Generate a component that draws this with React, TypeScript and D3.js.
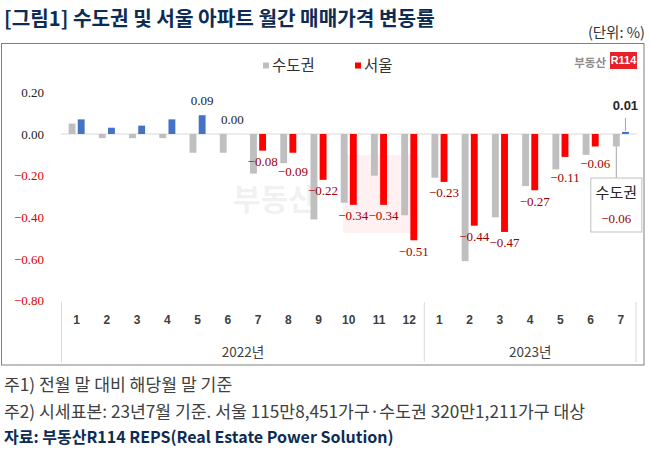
import React, { useEffect, useRef } from "react";
import * as d3 from "d3";

// 월별 (2022.1 ~ 2023.7)
const months = ["1", "2", "3", "4", "5", "6", "7", "8", "9", "10", "11", "12", "1", "2", "3", "4", "5", "6", "7"];
const yearLabels = ["2022년", "2023년"];
const monthsPerYear = [12, 7];

// 수도권 (gray) / 서울 (blue, red)
const capitalArea = [0.05, -0.02, -0.02, -0.02, -0.09, -0.09, -0.19, -0.14, -0.41, -0.33, -0.2, -0.39, -0.21, -0.61, -0.4, -0.25, -0.17, -0.1, -0.06];
const seoul = [0.07, 0.03, 0.04, 0.07, 0.09, 0.0, -0.08, -0.09, -0.22, -0.34, -0.34, -0.51, -0.23, -0.44, -0.47, -0.27, -0.11, -0.06, 0.01];
const firstLabelled = 4; // labels start from 2022.5
const yTicks = [0.2, 0, -0.2, -0.4, -0.6, -0.8];
const seriesNames = ["수도권", "서울"];

const title = "[그림1] 수도권 및 서울 아파트 월간 매매가격 변동률";
const unit = "(단위: %)";
const notes = [
  "주1) 전월 말 대비 해당월 말 기준",
  "주2) 시세표본: 23년7월 기준. 서울 115만8,451가구·수도권 320만1,211가구 대상",
];
const source = "자료: 부동산R114 REPS(Real Estate Power Solution)";

const KR = "'Noto Sans CJK KR', 'Noto Sans', sans-serif";
const SERIF = "'Liberation Serif', 'DejaVu Serif', serif";
const SANS = "'Liberation Sans', Arial, sans-serif";

const fmt = (v) => d3.format(".2f")(v).replace("-", "−");

const App = () => {
  const width = 650;
  const height = 450;
  const svgRef = useRef();

  useEffect(() => {
    const svg = d3.select(svgRef.current);
    svg.selectAll("*").remove();

    const x0 = d3.scaleBand()
      .domain(d3.range(months.length))
      .range([61.5, 636])
      .paddingInner(0.47)
      .paddingOuter(0.235);
    const x1 = d3.scaleBand()
      .domain(seriesNames)
      .range([0, x0.bandwidth()])
      .paddingInner(0.25);
    const y = d3.scaleLinear().domain([-0.8, 0.2]).range([300.7, 92.3]);

    const step = x0.step();
    const edge = (k) => x0(0) + x0.bandwidth() / 2 - step / 2 + k * step;
    const last = months.length - 1;

    // frame
    svg.append("rect")
      .attr("x", 1.5).attr("y", 43.5)
      .attr("width", 642.5).attr("height", 321.5)
      .attr("fill", "white").attr("stroke", "#7f7f7f");

    // title + unit
    svg.append("text")
      .attr("x", 4).attr("y", 26)
      .attr("font-family", KR).attr("font-weight", 700).attr("font-size", 20.2)
      .attr("fill", "#0d2c54")
      .text(title);
    svg.append("text")
      .attr("x", 645).attr("y", 38)
      .attr("text-anchor", "end")
      .attr("font-family", KR).attr("font-size", 14.5)
      .attr("fill", "#333")
      .text(unit);

    // watermark
    const wm = svg.append("g").attr("opacity", 0.05);
    wm.append("text")
      .attr("x", 233).attr("y", 210)
      .attr("font-family", KR).attr("font-weight", 700).attr("font-size", 30)
      .attr("fill", "#000")
      .text("부동산");
    wm.append("rect")
      .attr("x", 343).attr("y", 155).attr("width", 76).attr("height", 78)
      .attr("fill", "#ff0000");

    // logo
    svg.append("text")
      .attr("x", 606).attr("y", 63).attr("dy", "0.35em")
      .attr("text-anchor", "end")
      .attr("font-family", KR).attr("font-weight", 700).attr("font-size", 11.5)
      .attr("fill", "#8c8c8c")
      .text("부동산");
    svg.append("rect")
      .attr("x", 610).attr("y", 52).attr("width", 27).attr("height", 17)
      .attr("fill", "#e8202a");
    svg.append("text")
      .attr("x", 623.5).attr("y", 60.5).attr("dy", "0.35em")
      .attr("text-anchor", "middle")
      .attr("font-family", SANS).attr("font-weight", 700).attr("font-size", 11)
      .attr("fill", "white")
      .text("R114");

    // legend
    const legendColors = ["#bfbfbf", "#ff0000"];
    const legendX = [263, 355];
    seriesNames.forEach((name, i) => {
      svg.append("rect")
        .attr("x", legendX[i]).attr("y", 62.5).attr("width", 6).attr("height", 6)
        .attr("fill", legendColors[i]);
      svg.append("text")
        .attr("x", legendX[i] + 9).attr("y", 66).attr("dy", "0.35em")
        .attr("font-family", KR).attr("font-size", 15.5)
        .attr("fill", "#333")
        .text(name);
    });

    // y axis labels
    svg.append("g")
      .selectAll("text")
      .data(yTicks)
      .join("text")
      .attr("x", 44).attr("y", (d) => y(d)).attr("dy", "0.35em")
      .attr("text-anchor", "end")
      .attr("font-family", SERIF).attr("font-size", 13)
      .attr("fill", (d) => (d < 0 ? "#e00000" : "#222"))
      .text((d) => fmt(d));

    // zero line
    svg.append("line")
      .attr("x1", 61).attr("x2", 637)
      .attr("y1", y(0)).attr("y2", y(0))
      .attr("stroke", "#d9d9d9");

    // bars
    const bars = svg.append("g");
    bars.selectAll(".cap")
      .data(capitalArea)
      .join("rect")
      .attr("class", "cap")
      .attr("x", (d, i) => x0(i) + x1("수도권"))
      .attr("width", x1.bandwidth())
      .attr("y", (d) => y(Math.max(0, d)))
      .attr("height", (d) => Math.abs(y(d) - y(0)))
      .attr("fill", "#bfbfbf");
    bars.selectAll(".seoul")
      .data(seoul)
      .join("rect")
      .attr("class", "seoul")
      .attr("x", (d, i) => x0(i) + x1("서울"))
      .attr("width", x1.bandwidth())
      .attr("y", (d) => y(Math.max(0, d)))
      .attr("height", (d) => Math.abs(y(d) - y(0)))
      .attr("fill", (d) => (d < 0 ? "#ff0000" : "#4472c4"));

    // seoul data labels
    const labels = [];
    seoul.forEach((d, i) => {
      if (i < firstLabelled || i === last) return;
      const cx = x0(i) + x1("서울") + x1.bandwidth() / 2;
      let cy;
      if (d >= 0) {
        cy = y(d) - 15;
      } else {
        cy = y(d) + 11;
        // step below the gray bar end if it would cut through the label
        const grayEnd = y(capitalArea[i]);
        if (grayEnd > cy - 6.5 && grayEnd < cy + 6.5) cy = grayEnd + 8.5;
      }
      labels.push({ v: d, cx, cy });
    });
    svg.append("g")
      .selectAll("text")
      .data(labels)
      .join("text")
      .attr("x", (d) => d.cx).attr("y", (d) => d.cy).attr("dy", "0.35em")
      .attr("text-anchor", "middle")
      .attr("font-family", SERIF).attr("font-size", 13)
      .attr("fill", (d) => (d.v < 0 ? "#a00000" : "#222"))
      .text((d) => fmt(d.v));

    // callout: latest seoul
    const sx = x0(last) + x1("서울") + x1.bandwidth() / 2;
    svg.append("line")
      .attr("x1", sx).attr("x2", sx)
      .attr("y1", y(seoul[last]) - 14).attr("y2", y(seoul[last]) - 1)
      .attr("stroke", "#a6a6a6");
    svg.append("text")
      .attr("x", sx).attr("y", 105).attr("dy", "0.35em")
      .attr("text-anchor", "middle")
      .attr("font-family", SANS).attr("font-weight", 700).attr("font-size", 13)
      .attr("fill", "#262626")
      .text(fmt(seoul[last]));

    // callout: latest capital area
    const gx = x0(last) + x1("수도권") + x1.bandwidth() / 2;
    const boxTop = 178;
    svg.append("line")
      .attr("x1", gx).attr("x2", gx)
      .attr("y1", y(capitalArea[last])).attr("y2", boxTop)
      .attr("stroke", "#a6a6a6");
    svg.append("rect")
      .attr("x", gx - 25.5).attr("y", boxTop).attr("width", 51).attr("height", 54)
      .attr("fill", "white").attr("stroke", "#bfbfbf");
    svg.append("text")
      .attr("x", gx).attr("y", boxTop + 15).attr("dy", "0.35em")
      .attr("text-anchor", "middle")
      .attr("font-family", KR).attr("font-size", 15)
      .attr("fill", "#262626")
      .text("수도권");
    svg.append("text")
      .attr("x", gx).attr("y", boxTop + 40).attr("dy", "0.35em")
      .attr("text-anchor", "middle")
      .attr("font-family", SERIF).attr("font-size", 13)
      .attr("fill", "#a00000")
      .text(fmt(capitalArea[last]));

    // category axis
    svg.append("g")
      .selectAll("text")
      .data(months)
      .join("text")
      .attr("x", (d, i) => x0(i) + x0.bandwidth() / 2)
      .attr("y", 320).attr("dy", "0.35em")
      .attr("text-anchor", "middle")
      .attr("font-family", SANS).attr("font-weight", 700).attr("font-size", 12)
      .attr("fill", "#404040")
      .text((d) => d);

    let k = 0;
    const seps = [0];
    yearLabels.forEach((label, i) => {
      const a = edge(k);
      k += monthsPerYear[i];
      const b = edge(k);
      seps.push(k);
      svg.append("text")
        .attr("x", (a + b) / 2).attr("y", 352).attr("dy", "0.35em")
        .attr("text-anchor", "middle")
        .attr("font-family", KR).attr("font-size", 13.5)
        .attr("fill", "#404040")
        .text(label);
    });
    svg.append("g")
      .selectAll("line")
      .data(seps)
      .join("line")
      .attr("x1", (d) => edge(d)).attr("x2", (d) => edge(d))
      .attr("y1", 302).attr("y2", 362)
      .attr("stroke", "#d9d9d9");

    // notes + source
    notes.forEach((n, i) => {
      svg.append("text")
        .attr("x", 4).attr("y", 385 + i * 26.5).attr("dy", "0.35em")
        .attr("font-family", KR).attr("font-size", 17.2)
        .attr("fill", "#404040")
        .text(n);
    });
    svg.append("text")
      .attr("x", 4).attr("y", 437).attr("dy", "0.35em")
      .attr("font-family", KR).attr("font-weight", 700).attr("font-size", 16)
      .attr("fill", "#0d2c54")
      .text(source);
  }, []);

  return (
    <svg
      ref={svgRef}
      width={width}
      height={height}
      viewBox={`0 0 ${width} ${height}`}
      style={{ position: "absolute", left: 0, top: 0, display: "block", background: "white" }}
    ></svg>
  );
};

export default App;
